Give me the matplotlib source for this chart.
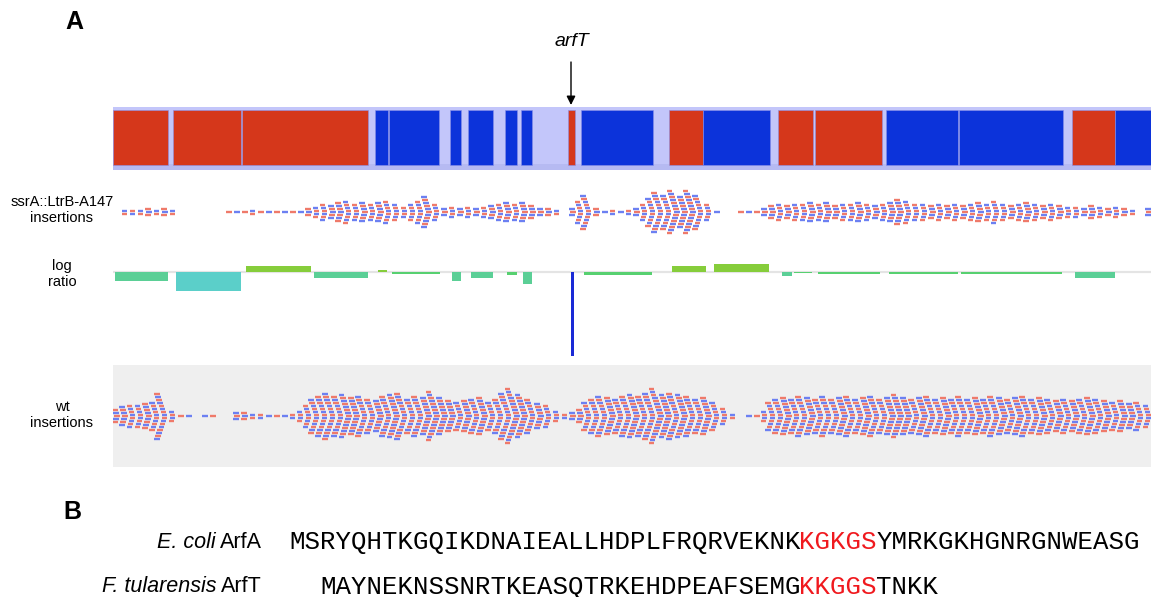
import numpy as np
import matplotlib
matplotlib.use("Agg")
import matplotlib.pyplot as plt

W, H = 1151, 597

# genome positions (kb-like units, 0 = left edge of tracks)
red_genes = [(0, 55), (60, 128), (129, 255), (455, 462), (556, 590),
             (665, 700), (702, 769), (959, 1002)]
blue_genes = [(262, 275), (276, 326), (337, 348), (355, 380), (392, 404),
              (408, 419), (468, 540), (590, 657), (773, 845), (846, 950),
              (1002, 1040)]

# insertion counts, one column every 8 units starting at 4
ssra_counts = [0, 2, 2, 2, 3, 2, 3, 2, 0, 0, 0, 0, 0, 0, 1, 1, 1, 2, 1, 1,
               1, 1, 1, 1, 3, 4, 6, 5, 7, 8, 6, 7, 6, 7, 8, 6, 4, 6, 8, 11,
               6, 3, 4, 3, 4, 3, 4, 5, 6, 7, 6, 7, 5, 3, 3, 2, 0, 3, 8, 12,
               3, 1, 2, 1, 2, 3, 6, 10, 14, 12, 15, 11, 15, 12, 6, 1, 0, 0, 1, 1,
               1, 3, 5, 6, 5, 6, 6, 7, 6, 7, 5, 6, 6, 7, 6, 5, 6, 7, 9, 8,
               6, 6, 5, 6, 5, 6, 5, 6, 7, 6, 8, 6, 5, 6, 7, 6, 5, 6, 5, 4,
               4, 3, 5, 4, 3, 4, 3, 2, 0, 3]
wt_counts = [5, 7, 8, 8, 9, 10, 16, 4, 1, 1, 0, 1, 1, 0, 0, 3, 3, 2, 2, 1,
             1, 1, 2, 4, 8, 12, 14, 16, 14, 15, 13, 14, 12, 11, 14, 15, 16, 12, 14, 13,
             17, 13, 11, 10, 11, 12, 13, 10, 12, 16, 19, 15, 12, 9, 8, 4, 2, 3, 5, 10,
             12, 14, 13, 12, 14, 15, 14, 16, 19, 15, 16, 15, 14, 12, 13, 10, 6, 2, 0, 1,
             1, 4, 10, 12, 13, 12, 14, 13, 12, 14, 12, 13, 14, 12, 13, 14, 12, 13, 15, 13,
             12, 13, 14, 12, 13, 12, 14, 12, 13, 12, 14, 13, 12, 13, 14, 12, 13, 12, 11, 12,
             11, 12, 13, 12, 11, 10, 11, 9, 10, 8]

# log ratio windows: start, end, value
lr_start = [2, 63, 133, 201, 265, 279, 339, 358, 394, 410, 458, 471, 559, 601,
            669, 681, 705, 776, 848, 962]
lr_end = [55, 128, 198, 255, 274, 327, 348, 380, 404, 419, 461, 539, 593, 656,
          679, 699, 767, 845, 949, 1002]
lr_value = [-0.75, -1.6, 0.5, -0.5, 0.17, -0.15, -0.75, -0.5, -0.25, -1.0, -7.0,
            -0.25, 0.5, 0.67, -0.35, -0.12, -0.15, -0.15, -0.15, -0.5]

seq_ecoli = ["MSRYQHTKGQIKDNAIEALLHDPLFRQRVEKNK", "KGKGS", "YMRKGKHGNRGNWEASG"]
seq_ftul = ["MAYNEKNSSNRTKEASQTRKEHDPEAFSEMG", "KKGGS", "TNKK"]

RED = "#d5371b"
BLUE = "#0c33da"
INS_RED = "#ef7a6a"
INS_BLUE = "#6c80f2"


def box(left, top, width, height):
    return [left / W, 1 - (top + height) / H, width / W, height / H]


def lr_color(v):
    if v > 0:
        return "#86cd3b"
    if v <= -3:
        return "#1a2ad6"
    if v <= -1.2:
        return "#5bcfc9"
    if v <= -0.3:
        return "#5bcf96"
    return "#57d070"


def draw_insertions(ax, counts):
    xs, ys, cs = [], [], []
    for i, n in enumerate(counts):
        xc = 4 + 8 * i
        for k in range(n):
            off = (k - (n - 1) / 2) * 3.0
            xs.append(xc - 0.35 * abs(off))
            ys.append(off)
            cs.append(INS_RED if (k + i) % 2 == 0 else INS_BLUE)
    xs = np.array(xs)
    ax.hlines(ys, xs - 2.8, xs + 2.8, colors=cs, lw=1.7)


fig = plt.figure(figsize=(W / 100, H / 100), dpi=100)

# gene track
axg = fig.add_axes(box(113, 107, 1038, 63))
axg.set_xlim(0, 1038)
axg.set_ylim(0, 1)
axg.axhspan(0, 1, color="#c3c6fa", lw=0, zorder=0)
axg.axhspan(0, 0.09, color="#b6baf2", lw=0, zorder=0)
for genes, col in [(red_genes, RED), (blue_genes, BLUE)]:
    for s, e in genes:
        axg.bar(s, 0.87, width=e - s, bottom=0.08, align="edge", color=col,
                edgecolor="#8a90e8", lw=0.4, zorder=2)
axg.axis("off")

# ssrA insertions
ax1 = fig.add_axes(box(113, 178, 1038, 70))
ax1.set_xlim(0, 1038)
ax1.set_ylim(36, -34)
draw_insertions(ax1, ssra_counts)
ax1.axis("off")

# log ratio
axl = fig.add_axes(box(113, 255, 1038, 107))
axl.set_xlim(0, 1038)
axl.set_ylim(-7.5, 17 / 12)
axl.axhline(0, color="#e4e4e4", lw=1.6, zorder=0)
axl.bar(lr_start, lr_value, width=np.array(lr_end) - np.array(lr_start),
        align="edge", color=[lr_color(v) for v in lr_value], lw=0)
axl.axis("off")

# wt insertions
axw = fig.add_axes(box(113, 365, 1038, 102))
axw.set_xlim(0, 1038)
axw.set_ylim(51, -51)
axw.set_facecolor("#efefef")
draw_insertions(axw, wt_counts)
axw.set_xticks([])
axw.set_yticks([])
for sp in axw.spines.values():
    sp.set_visible(False)

# text overlay in pixel units
axt = fig.add_axes([0, 0, 1, 1])
axt.set_xlim(0, W)
axt.set_ylim(H, 0)
axt.axis("off")

sans = "Liberation Sans"
axt.text(74, 22, "A", fontsize=18, fontweight="bold", family=sans, ha="center", va="center")
axt.text(72, 512, "B", fontsize=18, fontweight="bold", family=sans, ha="center", va="center")
axt.text(572, 42, "arfT", fontsize=14, style="italic", family=sans, ha="center", va="center")
axt.annotate("", xy=(571, 105), xytext=(571, 62),
             arrowprops=dict(arrowstyle="-|>", color="black", lw=1.0,
                             mutation_scale=13, shrinkA=0, shrinkB=0))

for y, lbl in [(210, "ssrA::LtrB-A147\ninsertions"), (274, "log\nratio"),
               (415, "wt\ninsertions")]:
    axt.text(62, y, lbl, fontsize=10.5, family=sans, ha="center", va="center",
             linespacing=1.2)

# sequence labels
axt.text(262, 542, "ArfA", fontsize=15.5, family=sans, ha="right", va="center")
axt.text(216, 542, "E. coli", fontsize=15.5, family=sans, style="italic", ha="right", va="center")
axt.text(262, 587, "ArfT", fontsize=15.5, family=sans, ha="right", va="center")
axt.text(217, 587, "F. tularensis", fontsize=15.5, family=sans, style="italic", ha="right", va="center")

cw = 15.45
for x0, y, parts in [(289, 542, seq_ecoli), (320, 587, seq_ftul)]:
    pos = x0
    for j, part in enumerate(parts):
        axt.text(pos, y, part, fontsize=18.5, family="Liberation Mono",
                 color="#f0191e" if j == 1 else "black", ha="left", va="center")
        pos += cw * len(part)

fig.savefig("out.png", dpi=100)
